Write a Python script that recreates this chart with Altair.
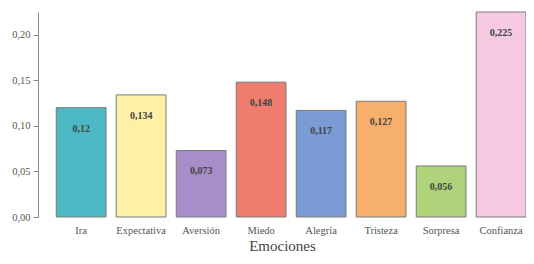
import altair as alt
import pandas as pd

emociones = ["Ira", "Expectativa", "Aversión", "Miedo", "Alegría", "Tristeza", "Sorpresa", "Confianza"]
valores = [0.12, 0.134, 0.073, 0.148, 0.117, 0.127, 0.056, 0.225]
colores = ["#4cb8c4", "#fdf1a6", "#a68ec8", "#ef7d6e", "#7a9bd4", "#f6b06c", "#aed37a", "#f5c9e1"]
ticks_y = [0.0, 0.05, 0.10, 0.15, 0.20]

df = pd.DataFrame({"emocion": emociones, "valor": valores})

FONT = "Liberation Serif"

x = alt.X("emocion:N", sort=emociones, title="Emociones",
          scale=alt.Scale(paddingInner=0.17, paddingOuter=0.152, align=1.0),
          axis=alt.Axis(labelAngle=0, domain=False, ticks=False, labelPadding=8,
                        labelFont=FONT, labelFontSize=10.5, labelColor="#555555",
                        titleFont=FONT, titleFontSize=15, titleFontWeight="normal",
                        titleColor="#444444", titlePadding=3))
y = alt.Y("valor:Q", title=None,
          scale=alt.Scale(domain=[0, 0.225], nice=False),
          axis=alt.Axis(values=ticks_y, grid=False, domainColor="#888888", tickColor="#888888",
                        tickSize=5, labelPadding=3, labelFont=FONT, labelFontSize=10.5,
                        labelColor="#555555",
                        labelExpr="replace(format(datum.value, '.2f'), '.', ',')"))

base = alt.Chart(df)

bars = base.mark_bar(stroke="#7a7a7a", strokeWidth=1).encode(
    x=x, y=y,
    color=alt.Color("emocion:N", sort=emociones,
                    scale=alt.Scale(domain=emociones, range=colores), legend=None),
)

labels = base.transform_calculate(
    etiqueta="replace(toString(datum.valor), '.', ',')"
).mark_text(dy=21, baseline="middle", font=FONT, fontSize=10, fontWeight="bold",
            color="#444444").encode(
    x=alt.X("emocion:N", sort=emociones),
    y=alt.Y("valor:Q"),
    text="etiqueta:N",
)

chart = alt.layer(bars, labels).properties(
    width=488, height=205,
    padding={"left": 30, "top": 4, "right": 0, "bottom": 39},
    autosize="none",
    background="white",
).configure_view(stroke="transparent", strokeWidth=0)

chart.save("out.html", embed_options={"renderer": "svg", "actions": False})
